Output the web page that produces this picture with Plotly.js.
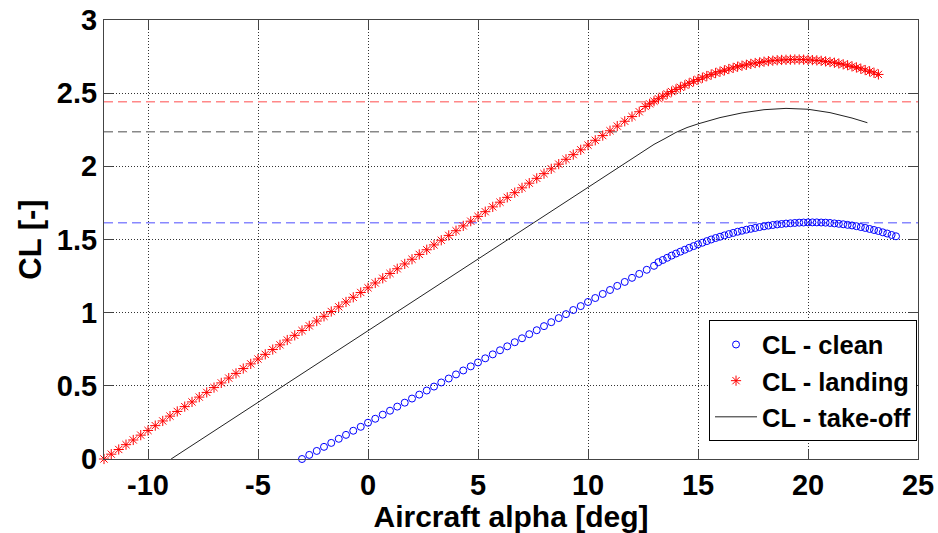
<!DOCTYPE html>
<html><head><meta charset="utf-8">
<script src="https://cdn.plot.ly/plotly-3.0.1.min.js"></script>
<style>html,body{margin:0;padding:0;background:#fff;} #chart{width:938px;height:533px;}</style>
</head><body><div id="chart"></div>
<script>
// ---- data ----
const landingAlpha = [-12,-11.67,-11.33,-11,-10.67,-10.33,-10,-9.67,-9.33,-9,-8.67,-8.33,-8,-7.67,-7.33,-7,-6.67,-6.33,-6,-5.67,-5.33,-5,-4.67,-4.33,-4,-3.67,-3.33,-3,-2.67,-2.33,-2,-1.67,-1.33,-1,-0.67,-0.33,0,0.33,0.67,1,1.33,1.67,2,2.33,2.67,3,3.33,3.67,4,4.33,4.67,5,5.33,5.67,6,6.33,6.67,7,7.33,7.67,8,8.33,8.67,9,9.33,9.67,10,10.33,10.67,11,11.33,11.67,12,12.33,
  12.6,12.8,13.0,13.2,13.4,13.6,13.8,14.0,14.2,14.4,14.6,14.8,15.0,15.2,15.4,15.6,15.8,16.0,16.2,16.4,16.6,16.8,17.0,17.2,17.4,17.6,17.8,18.0,18.2,18.4,18.6,18.8,19.0,19.2,19.4,19.6,19.8,20.0,20.2,20.4,20.6,20.8,21.0,21.2,21.4,21.6,21.8,22.0,22.2,22.4,22.6,22.8,23.0,23.2];
const landingCL = [0,0.033,0.065,0.098,0.13,0.163,0.195,0.228,0.26,0.293,0.325,0.358,0.39,0.423,0.455,0.488,0.52,0.553,0.585,0.618,0.65,0.683,0.715,0.748,0.78,0.813,0.845,0.878,0.91,0.943,0.975,1.008,1.04,1.073,1.105,1.138,1.17,1.203,1.235,1.268,1.3,1.333,1.365,1.398,1.43,1.463,1.495,1.528,1.56,1.593,1.625,1.658,1.69,1.723,1.755,1.788,1.82,1.853,1.885,1.918,1.95,1.983,2.015,2.048,2.08,2.113,2.145,2.178,2.21,2.243,2.275,2.308,2.34,2.373,
  2.409,2.427,2.445,2.462,2.479,2.495,2.511,2.526,2.540,2.554,2.568,2.581,2.593,2.605,2.617,2.627,2.638,2.647,2.656,2.665,2.673,2.681,2.688,2.694,2.700,2.706,2.710,2.715,2.719,2.722,2.725,2.727,2.728,2.729,2.730,2.730,2.729,2.728,2.726,2.724,2.721,2.717,2.713,2.708,2.703,2.697,2.691,2.683,2.676,2.667,2.658,2.649,2.639,2.628];

const cleanAlpha = [-3,-2.67,-2.33,-2,-1.67,-1.33,-1,-0.67,-0.33,0,0.33,0.67,1,1.33,1.67,2,2.33,2.67,3,3.33,3.67,4,4.33,4.67,5,5.33,5.67,6,6.33,6.67,7,7.33,7.67,8,8.33,8.67,9,9.33,9.67,10,10.33,10.67,11,11.33,11.67,12,12.33,12.67,13,
  13.2,13.4,13.6,13.8,14.0,14.2,14.4,14.6,14.8,15.0,15.2,15.4,15.6,15.8,16.0,16.2,16.4,16.6,16.8,17.0,17.2,17.4,17.6,17.8,18.0,18.2,18.4,18.6,18.8,19.0,19.2,19.4,19.6,19.8,20.0,20.2,20.4,20.6,20.8,21.0,21.2,21.4,21.6,21.8,22.0,22.2,22.4,22.6,22.8,23.0,23.2,23.4,23.6,23.8,24.0];
const cleanCL = [0,0.028,0.055,0.083,0.11,0.138,0.165,0.193,0.22,0.248,0.275,0.303,0.33,0.358,0.385,0.413,0.44,0.468,0.495,0.523,0.55,0.578,0.605,0.633,0.66,0.688,0.715,0.743,0.77,0.798,0.825,0.853,0.88,0.908,0.935,0.963,0.99,1.018,1.045,1.073,1.1,1.128,1.155,1.183,1.21,1.238,1.265,1.293,1.32,
  1.345,1.360,1.375,1.390,1.404,1.417,1.430,1.443,1.455,1.467,1.478,1.489,1.500,1.510,1.519,1.528,1.537,1.545,1.553,1.560,1.567,1.573,1.579,1.585,1.590,1.595,1.599,1.603,1.606,1.609,1.611,1.613,1.615,1.616,1.617,1.617,1.617,1.616,1.615,1.613,1.610,1.607,1.604,1.600,1.596,1.591,1.585,1.579,1.572,1.565,1.558,1.549,1.541,1.531,1.522];

const takeoffAlpha = [-8.95,-5,0,5,10,10.5,11,11.5,12,12.5,13,13.5,14,14.5,15,16,17,18,19,20,21,22,22.7];
const takeoffCL = [0,0.387,0.877,1.367,1.857,1.91,1.96,2.008,2.057,2.105,2.15,2.19,2.232,2.265,2.29,2.333,2.365,2.387,2.396,2.39,2.367,2.33,2.298];

const clMaxClean = 1.615;
const clMaxLanding = 2.442;
const clMaxTakeoff = 2.237;

const xRange = [-12, 25];
const yRange = [0, 3];
const xTickVals = [-10, -5, 0, 5, 10, 15, 20, 25];
const xTickText = ['-10', '-5', '0', '5', '10', '15', '20', '25'];
const yTickVals = [0, 0.5, 1, 1.5, 2, 2.5, 3];
const yTickText = ['0', '0.5', '1', '1.5', '2', '2.5', '3'];

const seriesNames = ['CL - clean', 'CL - landing', 'CL - take-off'];

// ---- traces ----
const FONT = '"Liberation Sans", Arial, Helvetica, sans-serif';
function hline(v, color) {
  return {x: xRange, y: [v, v], mode: 'lines', showlegend: false, hoverinfo: 'skip',
          line: {color: color, width: 1.5, dash: '9px,5px'}};
}
const traces = [
  hline(clMaxLanding, '#ff8888'),
  hline(clMaxTakeoff, '#888888'),
  hline(clMaxClean, '#8888ff'),
  {x: cleanAlpha, y: cleanCL, name: seriesNames[0], mode: 'markers', cliponaxis: false,
   marker: {symbol: 'circle-open', size: 7, color: '#0000ff', line: {color: '#0000ff', width: 1}}},
  {x: landingAlpha, y: landingCL, name: seriesNames[1], mode: 'markers', cliponaxis: false,
   marker: {symbol: 'asterisk-open', size: 8.5, color: '#ff0000', line: {color: '#ff0000', width: 1}}},
  {x: takeoffAlpha, y: takeoffCL, name: seriesNames[2], mode: 'lines',
   line: {color: '#222222', width: 1}}
];

const axisCommon = {
  showline: true, linecolor: '#444', linewidth: 1, mirror: 'allticks',
  ticks: 'inside', ticklen: 9, tickcolor: '#444', tickwidth: 1,
  showgrid: true, gridcolor: '#333', gridwidth: 1, griddash: '1px,2px',
  zeroline: false, tickmode: 'array',
  tickfont: {family: FONT, size: 29, color: '#000', weight: 'bold'}
};

const layout = {
  width: 938, height: 533,
  margin: {l: 104, r: 20, t: 20, b: 74},
  paper_bgcolor: '#fff', plot_bgcolor: '#fff',
  showlegend: true,
  xaxis: Object.assign({}, axisCommon, {
    range: xRange, tickvals: xTickVals, ticktext: xTickText,
    title: {text: 'Aircraft alpha [deg]', standoff: 2, font: {family: FONT, size: 30, color: '#000', weight: 'bold'}}
  }),
  yaxis: Object.assign({}, axisCommon, {
    range: yRange, tickvals: yTickVals, ticktext: yTickText,
    title: {text: 'CL [-]', standoff: 6, font: {family: FONT, size: 31, color: '#000', weight: 'bold'}}
  }),
  legend: {
    x: 0.9988, xanchor: 'right', y: 0.04, yanchor: 'bottom',
    bgcolor: '#fff', bordercolor: '#000', borderwidth: 1,
    font: {family: FONT, size: 25.5, color: '#000', weight: 'bold'},
    itemwidth: 42, tracegroupgap: 0
  }
};

Plotly.newPlot('chart', traces, layout, {displayModeBar: false, staticPlot: true});
</script>
</body></html>
